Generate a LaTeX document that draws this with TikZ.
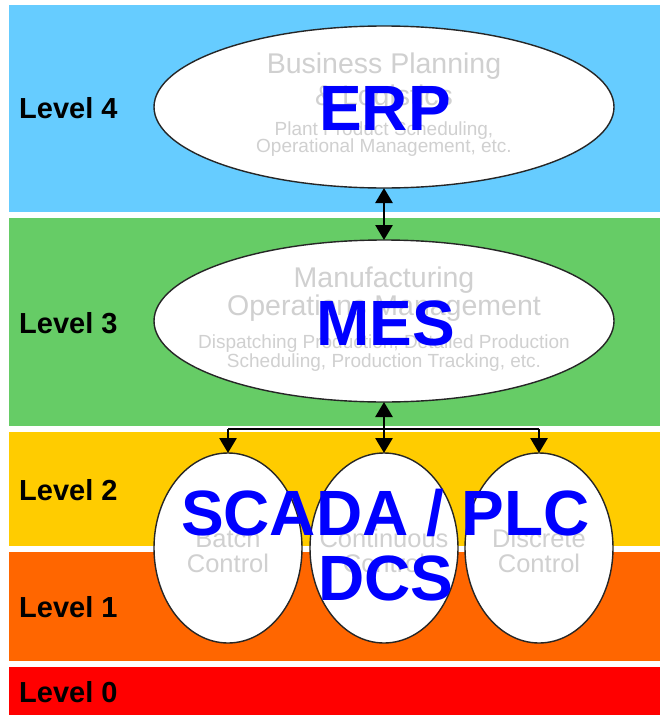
\documentclass[tikz,border=0pt]{standalone}
\usepackage{fontspec}
\setmainfont{Liberation Sans}
\usetikzlibrary{shapes.geometric,arrows.meta}
\definecolor{bandblue}{HTML}{66CCFF}
\definecolor{bandgreen}{HTML}{66CC66}
\definecolor{bandyellow}{HTML}{FFCC00}
\definecolor{bandorange}{HTML}{FF6600}
\definecolor{bandred}{HTML}{FF0000}
\definecolor{ghost}{HTML}{D0D0D0}
\definecolor{bigblue}{HTML}{0000FF}
\begin{document}
\begin{tikzpicture}[x=1pt,y=-1pt,
 lvl/.style={anchor=base west, inner sep=0, font=\fontsize{29}{31}\selectfont\bfseries},
 oval/.style={ellipse, draw=black!85, line width=1.4pt, fill=white, inner sep=0, outer sep=0},
 ghostbig/.style={anchor=base, inner sep=0, text=ghost, font=\fontsize{28.5}{30}\selectfont},
 ghostsmall/.style={anchor=base, inner sep=0, text=ghost, font=\fontsize{19}{20}\selectfont},
 ghostmid/.style={anchor=base, inner sep=0, text=ghost, font=\fontsize{25.5}{27}\selectfont},
 bigtxt/.style={anchor=base, inner sep=0, text=bigblue, font=\fontsize{64}{66}\selectfont\bfseries},
 link/.style={line width=2.8pt, draw=black},
 tipend/.style={-{Triangle[width=17pt,length=15pt]}},
 tipboth/.style={{Triangle[width=17pt,length=15pt]}-{Triangle[width=17pt,length=15pt]}}
]
\useasboundingbox (0,0) rectangle (660,715);
\fill[white] (0,0) rectangle (660,715);
% bands
\fill[bandblue]   (9,5)   rectangle (660,211.5);
\fill[bandgreen]  (9,218) rectangle (660,425.5);
\fill[bandyellow] (9,432) rectangle (660,545.5);
\fill[bandorange] (9,552) rectangle (660,660.5);
\fill[bandred]    (9,667) rectangle (660,715);
% level labels
\node[lvl] (l4) at (19,118) {Level 4};
\node[lvl] (l3) at (19,333) {Level 3};
\node[lvl] (l2) at (19,500) {Level 2};
\node[lvl] (l1) at (19,617) {Level 1};
\node[lvl] (l0) at (19,702) {Level 0};
% ellipses
\node[oval, minimum width=460pt, minimum height=162pt] (erp) at (384,107) {};
\node[oval, minimum width=460pt, minimum height=162pt] (mes) at (384,321) {};
\node[oval, minimum width=148pt, minimum height=190pt] (batch) at (228,548) {};
\node[oval, minimum width=148pt, minimum height=190pt] (cont) at (384,548) {};
\node[oval, minimum width=148pt, minimum height=190pt] (disc) at (539,548) {};
% ghost texts
\node[ghostbig] (e1) at (384,73) {Business Planning};
\node[ghostbig] (e2) at (384,105) {\& Logistics};
\node[ghostsmall] (e3) at (384,135) {Plant Product Scheduling,};
\node[ghostsmall] (e4) at (384,152) {Operational Management, etc.};
\node[ghostbig] (m1) at (384,287) {Manufacturing};
\node[ghostbig] (m2) at (384,315) {Operations Management};
\node[ghostsmall] (m3) at (384,348) {Dispatching Production, Detailed Production};
\node[ghostsmall] (m4) at (384,367) {Scheduling, Production Tracking, etc.};
\node[ghostmid] (b1) at (228,547) {Batch};
\node[ghostmid] (b2) at (228,572) {Control};
\node[ghostmid] (c1) at (384,547) {Continuous};
\node[ghostmid] (c2) at (384,572) {Control};
\node[ghostmid] (d1) at (539,547) {Discrete};
\node[ghostmid] (d2) at (539,572) {Control};
% connectors
\draw[link, tipboth] (erp) -- (mes);
\coordinate (br) at (384,429);
\draw[link, tipend] (br) -- (mes);
\draw[link] (batch.north |- br) -- (disc.north |- br);
\draw[link, tipend] (batch.north |- br) -- (batch.north);
\draw[link, tipend] (br) -- (cont.north);
\draw[link, tipend] (disc.north |- br) -- (disc.north);
% big blue labels
\node[bigtxt] (terp) at (385,130) {ERP};
\node[bigtxt] (tmes) at (386,345) {MES};
\node[bigtxt] (tscada) at (385.5,535) {SCADA / PLC};
\node[bigtxt] (tdcs) at (386,600) {DCS};
\end{tikzpicture}
\end{document}
